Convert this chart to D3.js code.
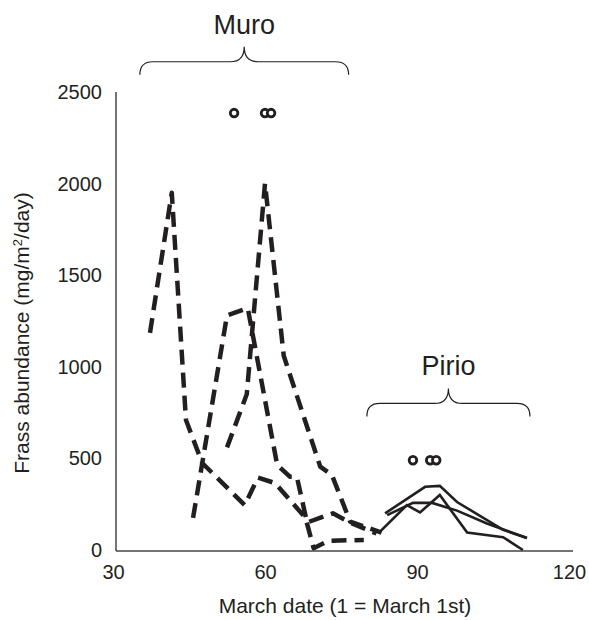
<!DOCTYPE html>
<meta charset="utf-8">
<style>
    body { margin: 0; background: #fff; }
    text { font-family: "Liberation Sans", Arial, sans-serif; fill: #231f20; }
    .axis path { stroke: #444; stroke-width: 1.5; }
    .axis text { font-size: 20px; font-family: "Liberation Sans", Arial, sans-serif; fill: #231f20; }
    .muro { fill: none; stroke: #231f20; stroke-width: 4.5; stroke-dasharray: 15,8; stroke-linejoin: round; }
    .pirio { fill: none; stroke: #231f20; stroke-width: 2.6; stroke-linejoin: miter; }
    .dot { fill: #fff; stroke: #231f20; stroke-width: 2.8; }
    .brace { fill: none; stroke: #231f20; stroke-width: 1.2; }
</style>
<svg class="chart"></svg>
<script src="https://cdn.jsdelivr.net/npm/d3@7"></script>
<script>

    // Muro sites (dashed), [March date, frass mg/m2/day]
    const muroA = [[37.3, 1185], [41.6, 1950], [44.4, 710], [47.6, 475], [56, 245], [58.6, 395],
        [62, 365], [68, 175], [69.6, 10], [72.5, 50], [79.5, 55]];
    const muroB = [[52.5, 560], [56.4, 850], [60, 2000], [63.7, 1060], [70.9, 455], [73.2, 410],
        [76.8, 155], [83, 95]];
    const muroC = [[45.8, 175], [52.5, 1280], [56.6, 1320], [62.4, 465], [64.9, 400], [66.3, 398],
        [68.3, 150], [73.4, 200], [76.8, 150], [82, 90]];

    // Pirio sites (solid)
    const pirio1 = [[83.7, 200], [91.6, 345], [94.5, 350], [97.9, 262], [107, 110], [111.7, 65]];
    const pirio2 = [[82.7, 100], [88, 245], [90.6, 205], [94.5, 300], [99.9, 95], [107, 70], [110.9, 0]];
    const pirio3 = [[84.1, 190], [89.2, 257], [93, 257], [97.9, 215], [103.8, 145], [111.7, 65]];

    // open circles above each group
    const muroDots = [[53.9, 2385], [60, 2385], [61.2, 2385]];
    const pirioDots = [[89.2, 490], [92.6, 490], [93.8, 490]];

    // group braces: label, from, to, level
    const groups = [
        {name: "Muro", from: 35.3, to: 76.5, level: 2665},
        {name: "Pirio", from: 80.1, to: 112.3, level: 800}
    ];

    const xTicks = [30, 60, 90, 120];
    const yTicks = [0, 500, 1000, 1500, 2000, 2500];

    const width = 589, height = 620;

    const x = d3.scaleLinear().domain([30, 120]).range([113, 569]);
    const y = d3.scaleLinear().domain([0, 2500]).range([550, 92]);

    const svg = d3.select(".chart")
        .attr("width", width)
        .attr("height", height);

    svg.append("g")
        .attr("class", "axis")
        .attr("transform", "translate(0,551)")
        .call(d3.axisBottom(x).tickValues(xTicks).tickSize(0).tickPadding(14).tickFormat(d3.format("d")))
        .call(g => g.select(".domain").attr("d", `M${x(30.6)},0H${x(120.8)}`));

    svg.append("g")
        .attr("class", "axis")
        .attr("transform", "translate(116,0)")
        .call(d3.axisLeft(y).tickValues(yTicks).tickSize(0).tickPadding(14).tickFormat(d3.format("d")))
        .call(g => g.select(".domain").attr("d", `M0,${y(2500)}V${y(0) + 1}`));

    svg.append("text")
        .attr("x", (x(30) + x(120)) / 2 + 4)
        .attr("y", 613)
        .attr("text-anchor", "middle")
        .style("font-size", "21px")
        .text("March date (1 = March 1st)");

    const yTitle = svg.append("text")
        .attr("transform", `translate(29,${y(1250) + 12}) rotate(-90)`)
        .attr("text-anchor", "middle")
        .style("font-size", "21px");
    yTitle.append("tspan").text("Frass abundance (mg/m");
    yTitle.append("tspan").attr("dy", -7).style("font-size", "13px").text("2");
    yTitle.append("tspan").attr("dy", 7).text("/day)");

    const line = d3.line().x(d => x(d[0])).y(d => y(d[1]));

    svg.selectAll("path.muro")
        .data([muroA, muroB, muroC])
        .join("path")
        .attr("class", "muro")
        .attr("d", line);

    svg.selectAll("path.pirio")
        .data([pirio1, pirio2, pirio3])
        .join("path")
        .attr("class", "pirio")
        .attr("d", line);

    svg.selectAll("circle.dot")
        .data([...muroDots, ...pirioDots])
        .join("circle")
        .attr("class", "dot")
        .attr("cx", d => x(d[0]))
        .attr("cy", d => y(d[1]))
        .attr("r", 3.8);

    // curly braces
    function bracePath(g) {
        const x0 = x(g.from), x1 = x(g.to), xm = (x0 + x1) / 2, yf = y(g.level);
        const r = 13, tip = 15;
        return `M${x0},${yf + r} Q${x0},${yf} ${x0 + r},${yf}` +
            ` L${xm - 14},${yf} Q${xm},${yf} ${xm},${yf - tip}` +
            ` Q${xm},${yf} ${xm + 14},${yf} L${x1 - r},${yf}` +
            ` Q${x1},${yf} ${x1},${yf + r}`;
    }

    svg.selectAll("path.brace")
        .data(groups)
        .join("path")
        .attr("class", "brace")
        .attr("d", bracePath);

    svg.selectAll("text.group")
        .data(groups)
        .join("text")
        .attr("class", "group")
        .attr("x", d => (x(d.from) + x(d.to)) / 2)
        .attr("y", d => y(d.level) - 28)
        .attr("text-anchor", "middle")
        .style("font-size", "27px")
        .text(d => d.name);

</script>
